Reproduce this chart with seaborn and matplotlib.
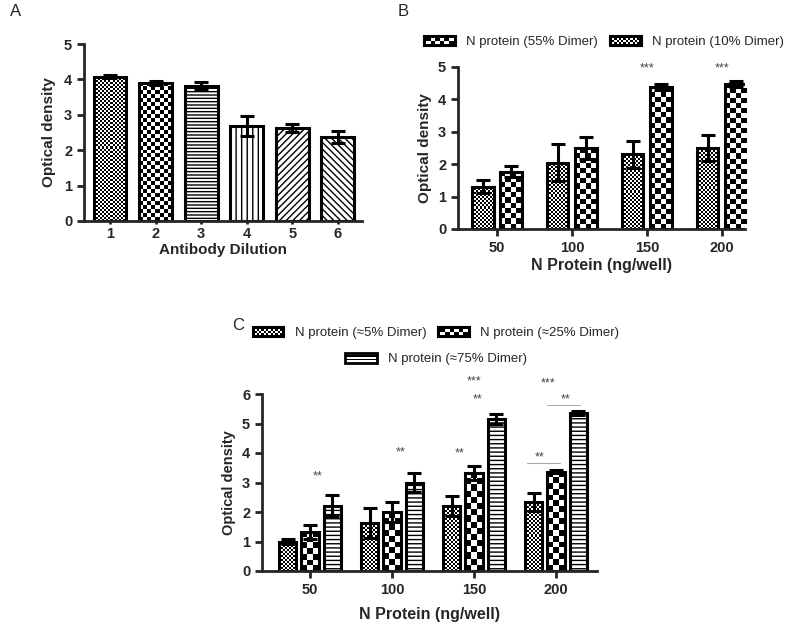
import numpy as np
import pandas as pd
import matplotlib
matplotlib.use("Agg")
import matplotlib.pyplot as plt
import seaborn as sns
from matplotlib.patches import Rectangle, Patch
from matplotlib.legend_handler import HandlerBase

# ---- data ----
# panel A
dilution = ["1", "2", "3", "4", "5", "6"]
od_a = [4.08, 3.90, 3.82, 2.68, 2.63, 2.37]
err_a = [0.05, 0.05, 0.12, 0.28, 0.12, 0.17]

# panel B
amount = ["50", "100", "150", "200"]
od_b_10 = [1.30, 2.05, 2.30, 2.50]
err_b_10 = [0.20, 0.58, 0.42, 0.40]
od_b_55 = [1.77, 2.50, 4.38, 4.48]
err_b_55 = [0.17, 0.33, 0.08, 0.10]
stars_b = [(2, 4.95, "***"), (3, 4.95, "***")]

# panel C
od_c_5 = [1.00, 1.62, 2.20, 2.33]
err_c_5 = [0.07, 0.50, 0.33, 0.30]
od_c_25 = [1.33, 2.00, 3.33, 3.37]
err_c_25 = [0.23, 0.33, 0.23, 0.05]
od_c_75 = [2.22, 3.00, 5.15, 5.35]
err_c_75 = [0.35, 0.33, 0.17, 0.07]
stars_c = [(0.09, 3.19, "**"), (1.11, 4.03, "**"), (1.83, 4.0, "**"),
           (2.0, 6.44, "***"), (2.05, 5.83, "**"), (2.9, 6.37, "***"),
           (3.12, 5.83, "**"), (2.8, 3.86, "**")]
lines_c = [(2.89, 3.29, 5.63), (2.65, 3.05, 3.66)]

sns.set_style("ticks")
plt.rcParams["font.family"] = ["Liberation Sans", "DejaVu Sans"]
plt.rcParams["hatch.linewidth"] = 1.0

fig = plt.figure(figsize=(7.9, 6.22), dpi=100)


def pos(l, t, r, b):
    # pixel box -> figure fraction
    return [l / 790, 1 - b / 622, (r - l) / 790, (b - t) / 622]


def style_axes(ax, ylim, xlim, yticks):
    ax.set_ylim(*ylim)
    ax.set_xlim(*xlim)
    ax.set_yticks(yticks)
    sns.despine(ax=ax)
    for s in ["left", "bottom"]:
        ax.spines[s].set_linewidth(2)
    ax.tick_params(width=2, length=5, labelsize=10.5)
    for t in ax.get_xticklabels() + ax.get_yticklabels():
        t.set_fontweight("bold")


def checker_fill(ax, bar, cell):
    bb = bar.get_window_extent()
    nx = max(1, int(round(bb.width / cell)))
    ny = max(1, int(round(bb.height / cell)))
    img = np.add.outer(np.arange(ny), np.arange(nx)) % 2
    x0, y0 = bar.get_x(), bar.get_y()
    im = ax.imshow(img, cmap="gray", extent=(x0, x0 + bar.get_width(), y0, y0 + bar.get_height()),
                   interpolation="nearest", aspect="auto", origin="lower", zorder=0.9)
    im.set_clip_path(bar)
    bar.set_facecolor("none")


def dress(ax, bars, pattern, cell):
    for bar in bars:
        if pattern == "checker":
            checker_fill(ax, bar, cell)
        else:
            bar.set_hatch(pattern)


def add_err(ax, bars, err):
    xs = [b.get_x() + b.get_width() / 2 for b in bars]
    ys = [b.get_height() for b in bars]
    ax.errorbar(xs, ys, yerr=err, fmt="none", ecolor="black", elinewidth=2.2,
                capsize=5, capthick=2.2, zorder=3)


class BoxHandler(HandlerBase):
    def create_artists(self, legend, orig, xd, yd, width, height, fontsize, trans):
        kind = orig.get_gid()
        x0, y0 = -xd, -yd
        arts = []
        if kind == "hlines":
            arts.append(Rectangle((x0, y0), width, height, facecolor="white",
                                  edgecolor="black", lw=2, transform=trans))
            for f in (1 / 3, 2 / 3):
                arts.append(Rectangle((x0, y0 + f * height - 0.6), width, 1.2,
                                      facecolor="black", lw=0, transform=trans))
            return arts
        arts.append(Rectangle((x0, y0), width, height, facecolor="black",
                              edgecolor="black", lw=1.5, transform=trans))
        rows, cols = (2, 6) if kind == "big" else (3, 12)
        pad = 0.2 * height
        cw = (width - 2 * pad) / cols
        ch = (height - 2 * pad) / rows
        for i in range(rows):
            for j in range(cols):
                if (i + j) % 2 == 0:
                    arts.append(Rectangle((x0 + pad + j * cw, y0 + pad + i * ch), cw, ch,
                                          facecolor="white", lw=0, transform=trans))
        return arts


leg_kw = dict(handler_map={Patch: BoxHandler()}, loc="center", ncol=2, frameon=False,
              fontsize=9.5, handlelength=2.4, handleheight=0.85, handletextpad=0.8,
              columnspacing=0.9)

# ---------------- panel A ----------------
axA = fig.add_axes(pos(84, 44, 362, 221))
sns.barplot(x=dilution, y=od_a, color="white", edgecolor="black", linewidth=2.2,
            width=0.72, errorbar=None, saturation=1, ax=axA)
style_axes(axA, (0, 5), (-0.57, 5.53), range(0, 6))
axA.tick_params(axis="x", length=2, pad=2)
pats_a = ["checker", "checker", "-----", "|||", "/////", "\\\\\\\\\\"]
cells_a = [2, 4, 0, 0, 0, 0]
barsA = list(axA.patches)
for bar, p, c in zip(barsA, pats_a, cells_a):
    dress(axA, [bar], p, c)
add_err(axA, barsA, err_a)
axA.set_xlim(-0.57, 5.53)
axA.set_ylim(0, 5)
axA.set_xlabel("Antibody Dilution", fontsize=11, fontweight="bold", labelpad=2)
axA.set_ylabel("Optical density", fontsize=11, fontweight="bold", labelpad=6)

# ---------------- panel B ----------------
dfB = pd.DataFrame({
    "amount": amount * 2,
    "od": od_b_10 + od_b_55,
    "grp": ["10"] * 4 + ["55"] * 4,
})
axB = fig.add_axes(pos(458, 67, 745, 229))
sns.barplot(data=dfB, x="amount", y="od", hue="grp", hue_order=["10", "55"],
            palette=["white", "white"], edgecolor="black", linewidth=2.2, width=0.76,
            gap=0.24, errorbar=None, saturation=1, legend=False, ax=axB)
style_axes(axB, (0, 5), (-0.52, 3.31), range(0, 6))
dress(axB, list(axB.containers[0]), "checker", 2)
dress(axB, list(axB.containers[1]), "checker", 5)
add_err(axB, list(axB.containers[0]), err_b_10)
add_err(axB, list(axB.containers[1]), err_b_55)
for x, y, s in stars_b:
    axB.text(x, y, s, ha="center", va="center", fontsize=9, color="#444444")
axB.set_xlim(-0.52, 3.31)
axB.set_ylim(0, 5)
axB.set_xlabel("N Protein (ng/well)", fontsize=11.5, fontweight="bold", labelpad=2)
axB.set_ylabel("Optical density", fontsize=11, fontweight="bold")
hB = [Patch(gid="big", label="N protein (55% Dimer)"),
      Patch(gid="fine", label="N protein (10% Dimer)")]
fig.legend(handles=hB, bbox_to_anchor=(604 / 790, 1 - 42 / 622), **leg_kw)

# ---------------- panel C ----------------
dfC = pd.DataFrame({
    "amount": amount * 3,
    "od": od_c_5 + od_c_25 + od_c_75,
    "grp": ["5"] * 4 + ["25"] * 4 + ["75"] * 4,
})
axC = fig.add_axes(pos(262, 394, 597, 571))
sns.barplot(data=dfC, x="amount", y="od", hue="grp", hue_order=["5", "25", "75"],
            palette=["white"] * 3, edgecolor="black", linewidth=2.2, width=0.82,
            gap=0.23, errorbar=None, saturation=1, legend=False, ax=axC)
style_axes(axC, (0, 6), (-0.585, 3.5), range(0, 7))
dress(axC, list(axC.containers[0]), "checker", 2)
dress(axC, list(axC.containers[1]), "checker", 6)
dress(axC, list(axC.containers[2]), "----", 0)
add_err(axC, list(axC.containers[0]), err_c_5)
add_err(axC, list(axC.containers[1]), err_c_25)
add_err(axC, list(axC.containers[2]), err_c_75)
for x, y, s in stars_c:
    axC.text(x, y, s, ha="center", va="center", fontsize=9, color="#444444", clip_on=False)
for x0, x1, y in lines_c:
    axC.plot([x0, x1], [y, y], color="#aaaaaa", lw=0.8)
axC.set_xlim(-0.585, 3.5)
axC.set_ylim(0, 6)
axC.set_xlabel("N Protein (ng/well)", fontsize=11.5, fontweight="bold", labelpad=7)
axC.set_ylabel("Optical density", fontsize=10.5, fontweight="bold")
hC1 = [Patch(gid="fine", label="N protein (\u22485% Dimer)"),
       Patch(gid="big", label="N protein (\u224825% Dimer)")]
hC2 = [Patch(gid="hlines", label="N protein (\u224875% Dimer)")]
for h, ypx in ((hC1, 333), (hC2, 359)):
    fig.legend(handles=h, bbox_to_anchor=(436 / 790, 1 - ypx / 622), **leg_kw)

fig.text(10 / 790, 1 - 12 / 622, "A", fontsize=12, va="center")
fig.text(398 / 790, 1 - 12 / 622, "B", fontsize=12, va="center")
fig.text(232 / 790, 1 - 325 / 622, "C", fontsize=12, va="center")

fig.savefig("out.png", dpi=100)
